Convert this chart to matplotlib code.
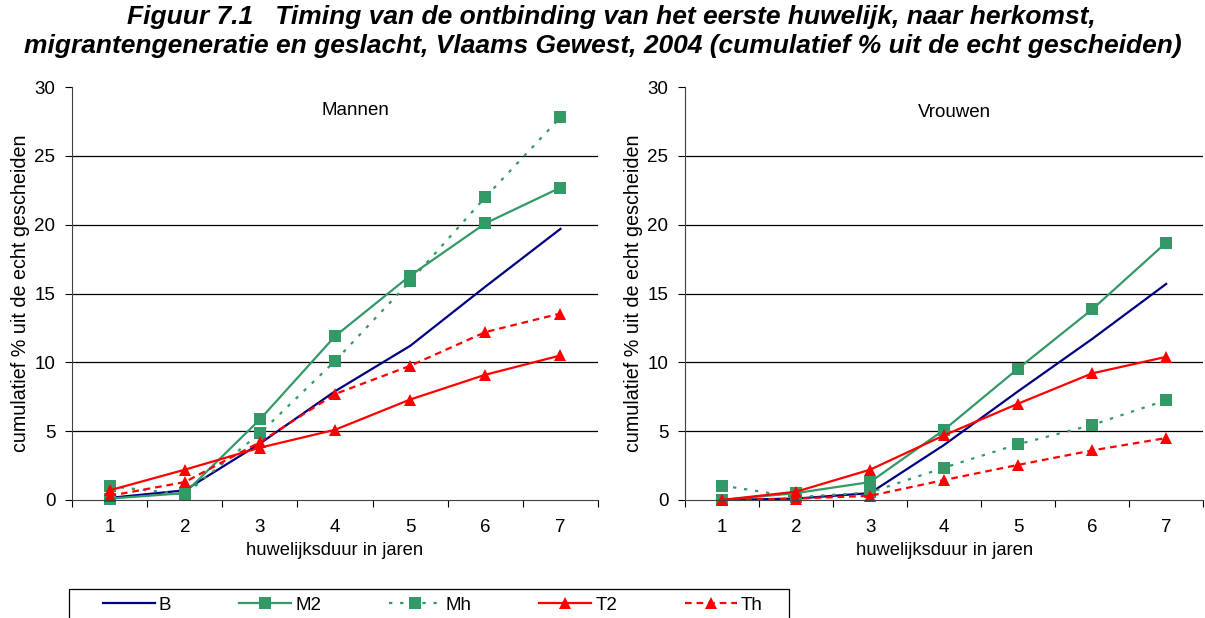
import matplotlib.pyplot as plt
from matplotlib.patches import Rectangle
import numpy as np

jaren = [1, 2, 3, 4, 5, 6, 7]
reeksen = ['B', 'M2', 'Mh', 'T2', 'Th']

# Mannen
man_B = [0.15, 0.7, 4.1, 7.9, 11.2, 15.5, 19.7]
man_M2 = [0.1, 0.5, 5.85, 11.9, 16.3, 20.1, 22.7]
man_Mh = [1.0, 0.4, 4.85, 10.1, 15.9, 22.0, 27.8]
man_T2 = [0.7, 2.2, 3.8, 5.1, 7.3, 9.1, 10.5]
man_Th = [0.3, 1.3, 4.2, 7.7, 9.75, 12.2, 13.55]

# Vrouwen
vrouw_B = [0.0, 0.1, 0.5, 4.0, 7.9, 11.7, 15.7]
vrouw_M2 = [0.0, 0.5, 1.3, 5.1, 9.55, 13.85, 18.7]
vrouw_Mh = [1.05, 0.2, 0.55, 2.35, 4.05, 5.45, 7.25]
vrouw_T2 = [0.0, 0.6, 2.2, 4.7, 7.0, 9.2, 10.4]
vrouw_Th = [0.0, 0.1, 0.3, 1.45, 2.55, 3.6, 4.5]

groen = '#339966'
stijlen = {
    'B': dict(color='#000080', lw=1.6, marker=None),
    'M2': dict(color=groen, lw=1.6, marker='s', ms=9),
    'Mh': dict(color=groen, lw=1.6, marker='s', ms=9, dashes=(1.5, 3.5)),
    'T2': dict(color='#ff0000', lw=1.6, marker='^', ms=9),
    'Th': dict(color='#ff0000', lw=1.6, marker='^', ms=9, dashes=(3, 2.2)),
}

plt.rcParams['font.family'] = ['Liberation Sans', 'DejaVu Sans']

fig = plt.figure(figsize=(12.05, 6.18), dpi=100)
ax1 = fig.add_axes([0.0598, 0.191, 0.4365, 0.668])
ax2 = fig.add_axes([0.5685, 0.191, 0.4300, 0.668])


def teken(ax, data, titel, tx, ty):
    for naam in reeksen:
        s = dict(stijlen[naam])
        ax.plot(jaren, data[naam], label=naam, markeredgewidth=0, clip_on=False, **s)
    ax.set_xlim(0.5, 7.5)
    ax.set_ylim(0, 30)
    ax.set_yticks(range(0, 31, 5))
    for y in range(5, 30, 5):
        ax.axhline(y, color='black', lw=0.9, zorder=0)
    ax.set_xticks(jaren)
    ax.set_xticks(np.arange(0.5, 8, 1), minor=True)
    ax.tick_params(axis='x', which='major', length=0, pad=14, labelsize=13.5)
    ax.tick_params(axis='x', which='minor', length=5, direction='out', width=0.8)
    ax.tick_params(axis='y', length=5, direction='out', width=0.8, labelsize=13.5, pad=7)
    for kant in ['top', 'right']:
        ax.spines[kant].set_visible(False)
    ax.spines['left'].set_color('#404040')
    ax.spines['bottom'].set_color('#404040')
    ax.set_xlabel('huwelijksduur in jaren', fontsize=13.2, labelpad=4)
    ax.set_ylabel('cumulatief % uit de echt gescheiden', fontsize=14.2, labelpad=3)
    ax.text(tx, ty, titel, transform=ax.transAxes, ha='center', va='center', fontsize=13.5)


teken(ax1, {'B': man_B, 'M2': man_M2, 'Mh': man_Mh, 'T2': man_T2, 'Th': man_Th},
      'Mannen', 0.538, 0.944)
teken(ax2, {'B': vrouw_B, 'M2': vrouw_M2, 'Mh': vrouw_Mh, 'T2': vrouw_T2, 'Th': vrouw_Th},
      'Vrouwen', 0.52, 0.939)

fig.text(0.507, 0.9725, 'Figuur 7.1   Timing van de ontbinding van het eerste huwelijk, naar herkomst,',
         ha='center', va='center', fontsize=19, fontweight='bold', style='italic')
fig.text(0.5, 0.926, 'migrantengeneratie en geslacht, Vlaams Gewest, 2004 (cumulatief % uit de echt gescheiden)',
         ha='center', va='center', fontsize=19, fontweight='bold', style='italic')

# legend frame (bottom edge falls outside the picture)
kader = Rectangle((69 / 1205, -0.05), 720 / 1205, 0.05 + 1 - 589 / 618, transform=fig.transFigure,
                  fill=False, edgecolor='black', lw=0.9, clip_on=False)
fig.patches.append(kader)

handles, labels = ax1.get_legend_handles_labels()
fig.legend(handles, labels, loc='center left', bbox_to_anchor=(103 / 1205, 1 - 605 / 618), ncol=5,
           frameon=False, fontsize=13.5, handlelength=2.77, columnspacing=3.63,
           handletextpad=0.21, borderpad=0, borderaxespad=0)

fig.savefig('out.png', dpi=100)
